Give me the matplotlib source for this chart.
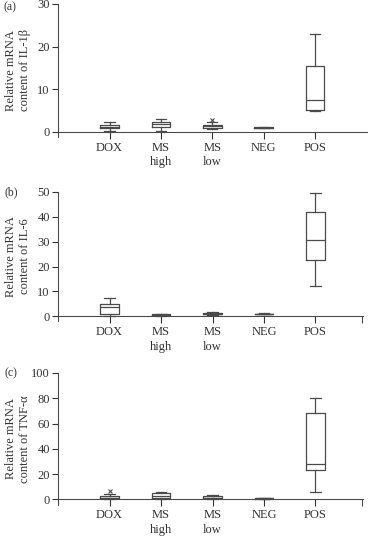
import matplotlib.pyplot as plt

plt.rcParams['font.family'] = ['Liberation Serif', 'DejaVu Serif']

groups = ['DOX', 'MS\nhigh', 'MS\nlow', 'NEG', 'POS']

# whisker low, Q1, median, Q3, whisker high
il1b = [[0.2, 0.9, 1.2, 1.6, 2.3],
        [0.3, 1.2, 1.8, 2.4, 3.0],
        [0.6, 1.0, 1.3, 1.7, 2.3],
        [0.8, 0.9, 1.0, 1.1, 1.2],
        [4.8, 5.2, 7.5, 15.5, 23.0]]
il1b_out = [[], [], [2.7], [], []]

il6 = [[0.3, 0.8, 3.8, 5.0, 7.5],
       [0.3, 0.5, 0.6, 0.8, 1.0],
       [0.5, 0.8, 1.0, 1.3, 1.8],
       [0.8, 0.9, 1.0, 1.1, 1.3],
       [12.0, 22.5, 30.5, 42.0, 49.5]]
il6_out = [[], [], [], [], []]

tnf = [[0.5, 1.0, 1.5, 2.5, 4.0],
       [0.5, 1.5, 3.0, 5.0, 6.0],
       [0.3, 1.0, 1.5, 2.5, 3.5],
       [0.5, 0.7, 0.9, 1.0, 1.2],
       [6.0, 23.5, 28.0, 68.0, 80.0]]
tnf_out = [[7.0], [], [], [], []]

panels = [('(a)', 'Relative mRNA\ncontent of IL-1β', il1b, il1b_out, [0, 10, 20, 30], 6.03, 0.975),
          ('(b)', 'Relative mRNA\ncontent of IL-6', il6, il6_out, [0, 10, 20, 30, 40, 50], 5.92, 1.0),
          ('(c)', 'Relative mRNA\ncontent of TNF-α', tnf, tnf_out, [0, 20, 40, 60, 80, 100], 5.92, 1.0)]

# axes rectangles [left, bottom, width, height]
rects = [[0.158, 0.746, 0.842, 0.2466],
         [0.158, 0.404, 0.828, 0.240],
         [0.158, 0.064, 0.828, 0.244]]

fig = plt.figure(figsize=(3.68, 5.39), dpi=100)
gray = '#4a4a4a'
tc = '#333333'

for (tag, ylabel, stats, outs, yticks, xend, tag_y), rect in zip(panels, rects):
    ax = fig.add_axes(rect)
    bx = []
    for s, o in zip(stats, outs):
        bx.append({'whislo': s[0], 'q1': s[1], 'med': s[2], 'q3': s[3], 'whishi': s[4], 'fliers': o})
    ax.bxp(bx, positions=[1, 2, 3, 4, 5], widths=0.36, showfliers=True,
           boxprops=dict(color=gray, lw=0.9),
           medianprops=dict(color=gray, lw=0.9),
           whiskerprops=dict(color=gray, lw=0.9),
           capprops=dict(color=gray, lw=0.9),
           capwidths=0.2,
           flierprops=dict(marker='x', markersize=3, markeredgecolor=gray, markeredgewidth=0.8))
    top = yticks[-1]
    ax.set_xlim(0, xend)
    ax.set_ylim(-top * 0.04, top)
    ax.spines['bottom'].set_position(('data', 0))
    ax.set_yticks(yticks)
    ax.set_xticks([1, 2, 3, 4, 5])
    ax.set_xticklabels(groups, fontsize=9, color=tc, linespacing=1.3)
    if xend < 6:
        ax.set_xticks([xend - 0.01], minor=True)
        ax.tick_params(axis='x', which='minor', length=5, width=0.8, colors=gray)
    ax.tick_params(axis='y', labelsize=9, colors=tc, length=4, width=0.8, pad=2)
    ax.tick_params(axis='x', which='major', length=5, width=0.8, colors=tc, pad=2)
    ax.spines['top'].set_visible(False)
    ax.spines['right'].set_visible(False)
    for side in ['left', 'bottom']:
        ax.spines[side].set_color(gray)
        ax.spines[side].set_linewidth(0.8)
    ax.set_ylabel(ylabel, fontsize=9, color=tc, linespacing=1.2)
    wpx = rect[2] * 368
    ax.yaxis.set_label_coords(-27 / wpx, 0.5)
    ax.text(-0.175, tag_y, tag, transform=ax.transAxes, fontsize=8.5, color=tc,
            ha='left', va='center')

fig.savefig('out.png', dpi=100)
